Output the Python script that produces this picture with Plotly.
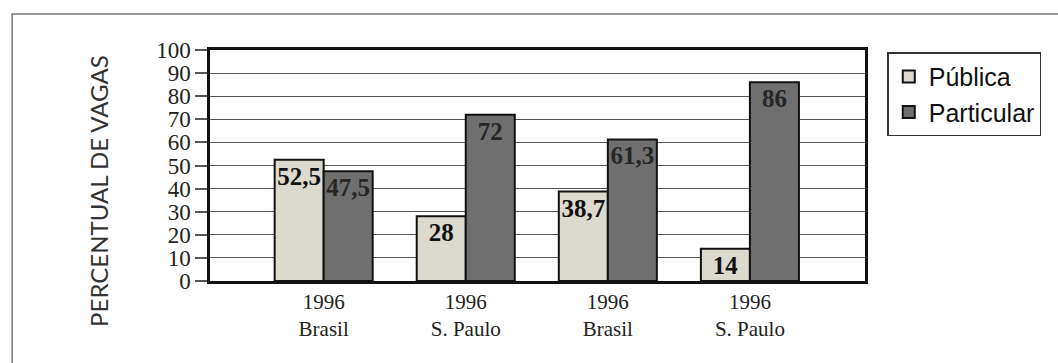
import plotly.graph_objects as go

categories = ["1996<br>Brasil", "1996<br>S. Paulo", "1996<br>Brasil", "1996<br>S. Paulo"]
publica = [52.5, 28, 38.7, 14]
particular = [47.5, 72, 61.3, 86]
publica_labels = ["52,5", "28", "38,7", "14"]
particular_labels = ["47,5", "72", "61,3", "86"]
y_ticks = [0, 10, 20, 30, 40, 50, 60, 70, 80, 90, 100]

xpos = list(range(len(categories)))

fig = go.Figure()
fig.add_trace(go.Bar(
    x=xpos, y=publica, name="Pública", text=publica_labels,
    marker=dict(color="#dcdacf", line=dict(color="#111", width=2)),
    textposition="inside", insidetextanchor="end", constraintext="none", textangle=0,
    textfont=dict(family="Liberation Serif", size=25, color="#111", weight="bold"),
))
fig.add_trace(go.Bar(
    x=xpos, y=particular, name="Particular", text=particular_labels,
    marker=dict(color="#6f6f6f", line=dict(color="#111", width=2)),
    textposition="inside", insidetextanchor="end", constraintext="none", textangle=0,
    textfont=dict(family="Liberation Serif", size=25, color="#262626", weight="bold"),
))

fig.update_layout(
    width=1058, height=363,
    margin=dict(l=210, r=193, t=50, b=82),
    paper_bgcolor="white", plot_bgcolor="white",
    barmode="group", bargap=0.31, bargroupgap=0,
    showlegend=True,
    legend=dict(
        x=1.034, y=0.99, xanchor="left", yanchor="top",
        bordercolor="#333", borderwidth=1.5,
        font=dict(family="Liberation Sans", size=25, color="#111"),
        tracegroupgap=2, itemwidth=30,
    ),
    xaxis=dict(
        range=[-0.8, 3.81], tickmode="array", tickvals=xpos, ticktext=categories,
        showgrid=False, ticks="", showline=True, mirror=True,
        linecolor="#111", linewidth=2.5,
        tickfont=dict(family="Liberation Serif", size=21, color="#222"),
    ),
    yaxis=dict(
        range=[0, 100], tickmode="array", tickvals=y_ticks,
        showgrid=True, gridcolor="#555", gridwidth=1.3,
        ticks="outside", ticklen=12, tickcolor="#555", tickwidth=1.5,
        showline=True, mirror=True, linecolor="#111", linewidth=2.5,
        tickfont=dict(family="Liberation Serif", size=23, color="#222"),
        zeroline=False,
    ),
    annotations=[dict(
        text="PERCENTUAL DE VAGAS", textangle=-90,
        x=-0.1695, y=0.39, xref="paper", yref="paper",
        xanchor="center", yanchor="middle", showarrow=False,
        font=dict(family="Lato", size=24, color="#333"),
    )],
    shapes=[dict(
        type="rect", xref="paper", yref="paper",
        x0=-0.302, x1=1.35, y0=-0.5, y1=1.156,
        line=dict(color="#777", width=1.5), layer="below",
    )],
)
fig.layout.barcornerradius = 0

fig.write_html("out.html")
